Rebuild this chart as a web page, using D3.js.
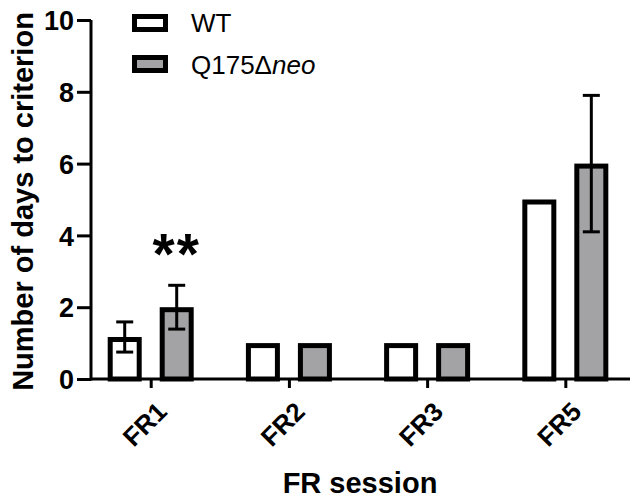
<!DOCTYPE html>
<html>
<head>
<meta charset="utf-8">
<script src="https://cdn.jsdelivr.net/npm/d3@7"></script>
<style>
  html, body { margin: 0; padding: 0; background: #fff; }
  svg { display: block; }
</style>
</head>
<body>
<div id="chart"></div>
<script>
const sessions = ['FR1', 'FR2', 'FR3', 'FR5'];
const wtMean = [1.17, 1, 1, 5];
const wtSem  = [0.42, 0, 0, 0];
const qMean  = [2, 1, 1, 6];
const qSem   = [0.61, 0, 0, 1.9];
const sigMarks = ['**', '', '', ''];
const yTicks = [0, 2, 4, 6, 8, 10];

const W = 638, H = 502;
const FONT = '"Liberation Sans", Arial, Helvetica, sans-serif';
const GRAY = '#a3a3a6';
const BAR_W = 34, BAR_SW = 5, OFFSET = 26;

const svg = d3.select('#chart').append('svg')
    .attr('width', W).attr('height', H);

const x = d3.scalePoint().domain(sessions).range([91, 630]).padding(0.45).align(0.48);
const y = d3.scaleLinear().domain([0, 10]).range([379, 20]);

const groups = [
    { name: 'WT', mean: wtMean, sem: wtSem, fill: '#fff', dx: -OFFSET },
    { name: 'Q175', mean: qMean, sem: qSem, fill: GRAY, dx: OFFSET },
];

// bars (stroke drawn inside the outer edge, like Prism)
groups.forEach(g => {
    svg.append('g').selectAll('rect')
        .data(sessions)
        .join('rect')
        .attr('x', (s) => x(s) + g.dx - BAR_W / 2 + BAR_SW / 2)
        .attr('y', (s, i) => y(g.mean[i]) + BAR_SW / 2)
        .attr('width', BAR_W - BAR_SW)
        .attr('height', (s, i) => y(0) - y(g.mean[i]) - BAR_SW / 2)
        .attr('fill', g.fill)
        .attr('stroke', '#000')
        .attr('stroke-width', BAR_SW);
});

// error bars
groups.forEach(g => {
    const eb = svg.append('g').attr('stroke', '#000').attr('stroke-width', 3);
    sessions.forEach((s, i) => {
        if (!g.sem[i]) return;
        const cx = x(s) + g.dx;
        const hi = y(g.mean[i] + g.sem[i]), lo = y(g.mean[i] - g.sem[i]);
        eb.append('line').attr('x1', cx).attr('x2', cx).attr('y1', hi).attr('y2', lo);
        eb.append('line').attr('x1', cx - 8.5).attr('x2', cx + 8.5).attr('y1', hi).attr('y2', hi);
        eb.append('line').attr('x1', cx - 8.5).attr('x2', cx + 8.5).attr('y1', lo).attr('y2', lo);
    });
});

// significance marks
svg.append('g').selectAll('text')
    .data(sessions.filter((s, i) => sigMarks[i]))
    .join('text')
    .attr('x', s => x(s) + OFFSET)
    .attr('y', 274)
    .attr('text-anchor', 'middle')
    .style('font-family', FONT).style('font-weight', 'bold').style('font-size', '57px')
    .style('letter-spacing', '2px')
    .text(s => sigMarks[sessions.indexOf(s)]);

// y axis
const yAxisG = svg.append('g')
    .attr('transform', 'translate(91,0)')
    .call(d3.axisLeft(y).tickValues(yTicks).tickSize(14).tickPadding(3));
yAxisG.select('.domain').attr('stroke-width', 3).attr('d', `M0,${y(10)}V${y(0) + 1.5}`);
yAxisG.selectAll('.tick line').attr('stroke-width', 3);
yAxisG.selectAll('text')
    .style('font-family', FONT).style('font-weight', 'bold').style('font-size', '27px')
    .attr('dy', '0.36em');

// x axis
const xAxisG = svg.append('g')
    .attr('transform', `translate(0,${y(0)})`)
    .call(d3.axisBottom(x).tickSize(9).tickPadding(4));
xAxisG.select('.domain').attr('stroke-width', 3).attr('d', 'M91,0H630');
xAxisG.selectAll('.tick line').attr('stroke-width', 3);
xAxisG.selectAll('text')
    .style('font-family', FONT).style('font-weight', 'bold').style('font-size', '26px')
    .attr('text-anchor', 'end')
    .attr('dy', '0')
    .attr('transform', 'translate(8,25) rotate(-45)');

// axis titles
svg.append('text')
    .attr('transform', `translate(33,${(y(0) + y(10)) / 2 + 2}) rotate(-90)`)
    .attr('text-anchor', 'middle')
    .style('font-family', FONT).style('font-weight', 'bold').style('font-size', '29px')
    .text('Number of days to criterion');

svg.append('text')
    .attr('x', 360).attr('y', 493)
    .attr('text-anchor', 'middle')
    .style('font-family', FONT).style('font-weight', 'bold').style('font-size', '29px')
    .text('FR session');

// legend
const legend = svg.append('g');
const legendRows = [
    { fill: '#fff', y: 14 },
    { fill: GRAY, y: 55 },
];
legendRows.forEach(r => {
    legend.append('rect')
        .attr('x', 132 + BAR_SW / 2).attr('y', r.y + BAR_SW / 2)
        .attr('width', 36 - BAR_SW).attr('height', 18 - BAR_SW)
        .attr('fill', r.fill).attr('stroke', '#000').attr('stroke-width', BAR_SW);
});
legend.append('text')
    .attr('x', 191).attr('y', 32)
    .style('font-family', FONT).style('font-size', '26px')
    .text('WT');
const qLabel = legend.append('text')
    .attr('x', 191).attr('y', 74)
    .style('font-family', FONT).style('font-size', '26px');
qLabel.append('tspan').text('Q175Δ');
qLabel.append('tspan').style('font-style', 'italic').text('neo');
</script>
</body>
</html>
